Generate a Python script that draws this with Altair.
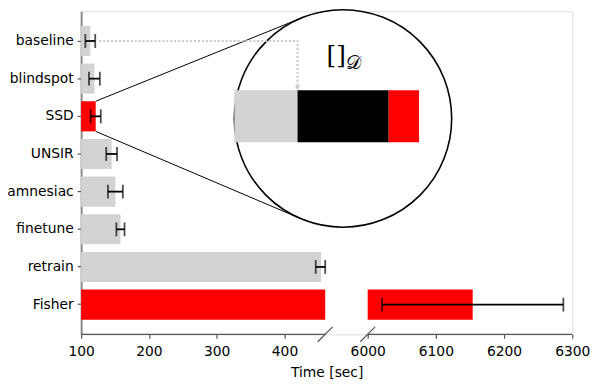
import math
import altair as alt
import pandas as pd

# ---------------- data ----------------
METHODS = ["baseline", "blindspot", "SSD", "UNSIR", "amnesiac", "finetune", "retrain", "Fisher"]
TIMES = [113.5, 119.6, 121.5, 145.0, 150.5, 158.0, 454.0, 6154.0]
ERRORS = [7.3, 8.0, 7.5, 8.0, 11.0, 6.0, 8.0, 133.0]
HIGHLIGHT = ["SSD", "Fisher"]

# SSD time breakdown shown in the magnified inset (cumulative ends, seconds)
SSD_PARTS = ["baseline", "importances", "SSD"]
SSD_PART_ENDS = [113.5, 119.5, 121.5]
SSD_PART_COLORS = ["#d3d3d3", "#000000", "#ff0000"]

LEFT_LIM = [100, 460]
RIGHT_LIM = [6000, 6300]
X_TICKS = [100, 200, 300, 400, 6000, 6100, 6200, 6300]

# ---------------- layout / style ----------------
GRAY, RED = "#d3d3d3", "#ff0000"
AXIS_C = "#555555"
FONT = "DejaVu Sans"
LEFT_W, GAP, RIGHT_W = 247, 43, 207
W = LEFT_W + GAP + RIGHT_W
H = 327
PAD = {"left": 74, "top": 1, "right": 20, "bottom": 52}
PAD_INNER, PAD_OUTER = 0.2, 0.39

# inset circle (plot pixels) and magnification
CX, CY, R = 265.0, 108.5, 110.0
ANCHOR_PX = 219.0          # where the baseline time sits inside the inset
K_INSET = 15.375           # px per second inside the inset
BAR_Y0, BAR_Y1 = -0.26, 0.22

# ---------------- helpers (mirror the scales given to Vega) ----------------
def main_x(t):
    if t <= LEFT_LIM[1]:
        return (t - LEFT_LIM[0]) / (LEFT_LIM[1] - LEFT_LIM[0]) * LEFT_W
    return LEFT_W + GAP + (t - RIGHT_LIM[0]) / (RIGHT_LIM[1] - RIGHT_LIM[0]) * RIGHT_W

n = len(METHODS)
step = H / (n - PAD_INNER + 2 * PAD_OUTER)
bw = step * (1 - PAD_INNER)
start0 = (H - step * (n - PAD_INNER)) / 2

def band_top(i):
    return start0 + i * step

def band_center(i):
    return band_top(i) + bw / 2

base_t = SSD_PART_ENDS[0]
t_lo = base_t - (ANCHOR_PX - (CX - R)) / K_INSET
t_hi = base_t + ((CX + R) - ANCHOR_PX) / K_INSET

def inset_t(px):
    return t_lo + (px - (CX - R)) / K_INSET

def inset_y(py):
    return (py - CY) / R

def tangent(px, py, upper):
    dx, dy = CX - px, CY - py
    d = math.hypot(dx, dy)
    ang = math.atan2(dy, dx) + (-1 if upper else 1) * math.asin(R / d)
    L = math.sqrt(d * d - R * R)
    return px + L * math.cos(ang), py + L * math.sin(ang)

# ---------------- tables ----------------
seg_rows = []
for m, t in zip(METHODS, TIMES):
    c = RED if m in HIGHLIGHT else GRAY
    seg_rows.append({"method": m, "x0": LEFT_LIM[0], "x1": min(t, LEFT_LIM[1]), "color": c})
    if t > RIGHT_LIM[0]:
        seg_rows.append({"method": m, "x0": RIGHT_LIM[0], "x1": t, "color": c})
seg_df = pd.DataFrame(seg_rows)

err_df = pd.DataFrame({
    "method": METHODS,
    "lo": [t - e for t, e in zip(TIMES, ERRORS)],
    "hi": [t + e for t, e in zip(TIMES, ERRORS)],
})
cap_df = pd.DataFrame(
    [{"method": m, "x": v} for m, lo, hi in zip(err_df.method, err_df.lo, err_df.hi) for v in (lo, hi)]
)
spine_df = pd.DataFrame({"x0": [LEFT_LIM[0], RIGHT_LIM[0]], "x1": [LEFT_LIM[1], RIGHT_LIM[1]]})
break_df = pd.DataFrame({"x": [LEFT_LIM[1], RIGHT_LIM[0]]})

# inset tables
circle_df = pd.DataFrame({"x": [(t_lo + t_hi) / 2], "y": [0.0]})
part_starts = [max(LEFT_LIM[0], t_lo)] + SSD_PART_ENDS[:-1]
inset_df = pd.DataFrame({
    "part": SSD_PARTS, "x0": part_starts, "x1": SSD_PART_ENDS, "color": SSD_PART_COLORS,
    "y0": [BAR_Y0] * 3, "y1": [BAR_Y1] * 3,
})

i_ssd = METHODS.index("SSD")
ssd_px = main_x(TIMES[i_ssd])
p_top = (ssd_px, band_top(i_ssd))
p_bot = (ssd_px, band_top(i_ssd) + bw)
t_top = tangent(*p_top, upper=True)
t_bot = tangent(*p_bot, upper=False)
conn_rows = []
for k, (a, b) in enumerate([(p_top, t_top), (p_bot, t_bot)]):
    for o, (px, py) in enumerate([a, b]):
        conn_rows.append({"id": k, "o": o, "x": inset_t(px), "y": inset_y(py)})
conn_df = pd.DataFrame(conn_rows)

i_base = METHODS.index("baseline")
dot_start = inset_t(main_x(TIMES[i_base] + ERRORS[i_base]) + 4)
bar_top_px = CY + BAR_Y0 * R
dot_df = pd.DataFrame({
    "o": [0, 1, 2],
    "x": [dot_start, base_t, base_t],
    "y": [inset_y(band_center(i_base)), inset_y(band_center(i_base)), inset_y(bar_top_px - 4)],
})
arrow_df = pd.DataFrame({"x": [base_t], "y": [inset_y(bar_top_px - 2.5)]})
label_df = pd.DataFrame({"x": [(SSD_PART_ENDS[0] + SSD_PART_ENDS[1]) / 2], "y": [BAR_Y0]})

# ---------------- scales / axes ----------------
x_scale = alt.Scale(domain=[LEFT_LIM[0], LEFT_LIM[1], RIGHT_LIM[0], RIGHT_LIM[1]],
                    range=[0, LEFT_W, LEFT_W + GAP, W], zero=False, nice=False)
y_scale = alt.Scale(domain=METHODS, paddingInner=PAD_INNER, paddingOuter=PAD_OUTER, round=False)
x_axis = alt.Axis(values=X_TICKS, domain=False, title="Time [sec]", grid=False, format="d",
                  tickSize=4, tickColor=AXIS_C, tickWidth=1.2, labelFontSize=14, labelColor="black",
                  labelPadding=6, labelFont=FONT, labelFlush=False, titleFont=FONT, titleFontSize=14,
                  titleFontWeight="normal", titleColor="black", titlePadding=8)
y_axis = alt.Axis(title=None, domain=True, domainColor="#8a8a8a", domainWidth=2, grid=False,
                  tickSize=4, tickColor=AXIS_C, tickWidth=1.2, labelFontSize=14, labelColor="black",
                  labelPadding=4, labelFont=FONT)

def X(field):
    return alt.X(field, scale=x_scale, axis=x_axis)

def Y(field):
    return alt.Y(field, scale=y_scale, axis=y_axis, sort=METHODS)

bars = alt.Chart(seg_df).mark_bar().encode(
    x=X("x0:Q"), x2="x1:Q", y=Y("method:N"), color=alt.Color("color:N", scale=None))
err_rule = alt.Chart(err_df).mark_rule(color="black", strokeWidth=1.8).encode(
    x=X("lo:Q"), x2="hi:Q", y=Y("method:N"))
caps = alt.Chart(cap_df).mark_tick(color="black", thickness=1.8, size=14, orient="vertical").encode(
    x=X("x:Q"), y=Y("method:N"))
spines = alt.Chart(spine_df).mark_rule(color=AXIS_C, strokeWidth=1.2).encode(
    x=X("x0:Q"), x2="x1:Q", y=alt.value(H))
breaks = alt.Chart(break_df).mark_point(shape="M-1,1L1,-1", size=225, filled=False,
                                        color=AXIS_C, strokeWidth=1.2, opacity=1).encode(
    x=X("x:Q"), y=alt.value(H))
main = alt.layer(bars, err_rule, caps, spines, breaks)

ix_scale = alt.Scale(domain=[t_lo, t_hi], range=[CX - R, CX + R], zero=False, nice=False)
iy_scale = alt.Scale(domain=[-1, 1], range=[CY - R, CY + R], zero=False, nice=False)

def IX(field):
    return alt.X(field, scale=ix_scale, axis=None)

def IY(field):
    return alt.Y(field, scale=iy_scale, axis=None)

circle = alt.Chart(circle_df).mark_point(shape="circle", size=(2 * R) ** 2, filled=True, fill="white",
                                         stroke="black", strokeWidth=1.6, opacity=1).encode(
    x=IX("x:Q"), y=IY("y:Q"))
inset_bars = alt.Chart(inset_df).mark_rect().encode(
    x=IX("x0:Q"), x2="x1:Q", y=IY("y0:Q"), y2="y1:Q", color=alt.Color("color:N", scale=None))
connectors = alt.Chart(conn_df).mark_line(color="black", strokeWidth=1).encode(
    x=IX("x:Q"), y=IY("y:Q"), detail="id:N", order="o:Q")
dotted = alt.Chart(dot_df).mark_line(color="#c8c8c8", strokeWidth=2, strokeDash=[2, 2]).encode(
    x=IX("x:Q"), y=IY("y:Q"), order="o:Q")
arrow = alt.Chart(arrow_df).mark_point(shape="triangle-down", size=30, filled=True,
                                       color="#c8c8c8", opacity=1).encode(x=IX("x:Q"), y=IY("y:Q"))
brackets = alt.Chart(label_df).mark_text(text="[]", font="DejaVu Serif", fontSize=25, dx=-7, dy=-36,
                                         align="center", baseline="middle", color="black").encode(
    x=IX("x:Q"), y=IY("y:Q"))
script_d = alt.Chart(label_df).mark_text(text="𝒟", font="DejaVu Serif", fontSize=19, dx=3, dy=-27,
                                         align="left", baseline="middle", color="black").encode(
    x=IX("x:Q"), y=IY("y:Q"))
inset = alt.layer(circle, inset_bars, connectors, dotted, arrow, brackets, script_d)

chart = alt.layer(main, inset).resolve_scale(x="independent", y="independent").properties(
    width=W, height=H, padding=PAD, autosize=alt.AutoSizeParams(type="none")
).configure_view(stroke=None).configure(font=FONT)

chart.save("out.html", embed_options={"renderer": "svg", "actions": False})
